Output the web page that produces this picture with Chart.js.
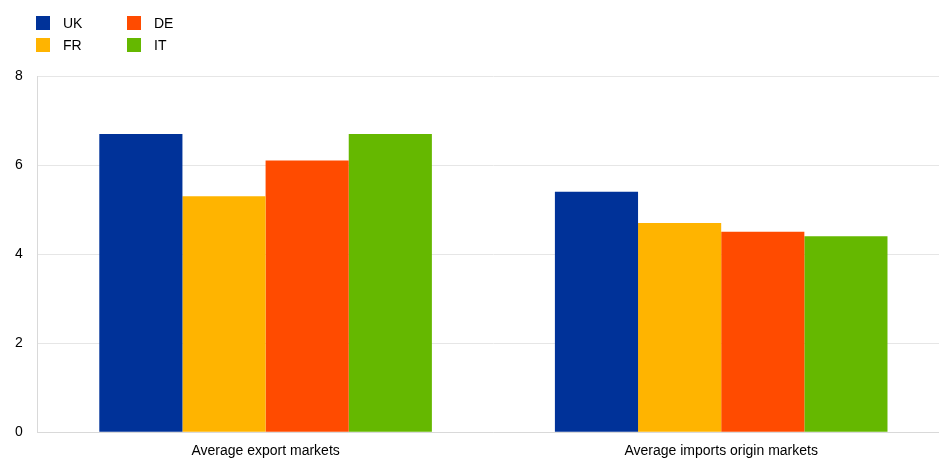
<!DOCTYPE html>
<html lang="en">
<head>
<meta charset="UTF-8">
<title>Average markets</title>
<script src="https://cdn.jsdelivr.net/npm/chart.js"></script>
<style>
  html, body { margin: 0; padding: 0; background: #fff; overflow: hidden; }
  body { width: 939px; height: 459px; position: relative; font-family: "Liberation Sans", Arial, sans-serif; }
  #wrap { position: absolute; left: 0; top: 0; width: 949px; height: 471px; }
  #legend { position: absolute; left: 36px; top: 15px; display: grid; grid-template-columns: 91px 80px; row-gap: 7px; font-size: 14px; color: #000; z-index: 2; }
  #legend div { display: flex; align-items: center; height: 15px; }
  #legend span.box { width: 14px; height: 14px; margin-right: 13px; display: inline-block; }
</style>
</head>
<body>
<div id="legend"></div>
<div id="wrap"><canvas id="chart" width="949" height="471"></canvas></div>
<script>
const categories = ['Average export markets', 'Average imports origin markets'];
const countries = ['UK', 'FR', 'DE', 'IT'];
const colors = ['#003299', '#FFB400', '#FF4B00', '#65B800'];
const ukValues = [6.7, 5.4];
const frValues = [5.3, 4.7];
const deValues = [6.1, 4.5];
const itValues = [6.7, 4.4];
const yTicks = [0, 2, 4, 6, 8];
const legendOrder = ['UK', 'DE', 'FR', 'IT'];

const seriesValues = [ukValues, frValues, deValues, itValues];

// legend in two columns, like the original
const legend = document.getElementById('legend');
legendOrder.forEach(name => {
  const i = countries.indexOf(name);
  const item = document.createElement('div');
  item.innerHTML = '<span class="box" style="background:' + colors[i] + '"></span>' + name;
  legend.appendChild(item);
});

new Chart(document.getElementById('chart').getContext('2d'), {
  type: 'bar',
  data: {
    labels: categories,
    datasets: countries.map((name, i) => ({
      label: name,
      data: seriesValues[i],
      backgroundColor: colors[i],
      borderWidth: 0,
      barPercentage: 1,
      categoryPercentage: 0.73
    }))
  },
  options: {
    responsive: false,
    animation: false,
    layout: { padding: { top: 76, left: 0, right: 0, bottom: 0 } },
    plugins: { legend: { display: false }, tooltip: { enabled: false } },
    scales: {
      x: {
        grid: { display: false, drawTicks: false },
        border: { color: '#d9d9d9', width: 1 },
        ticks: { color: '#000', font: { family: 'Liberation Sans', size: 14 }, padding: 11, maxRotation: 0 }
      },
      y: {
        min: 0,
        max: 8,
        afterBuildTicks: axis => { axis.ticks = yTicks.map(v => ({ value: v })); },
        grid: { color: '#e6e6e6', drawTicks: false, lineWidth: 1 },
        border: { color: '#d9d9d9', width: 1 },
        ticks: { color: '#000', font: { family: 'Liberation Sans', size: 14 }, padding: 15 }
      }
    }
  }
});
</script>
</body>
</html>
